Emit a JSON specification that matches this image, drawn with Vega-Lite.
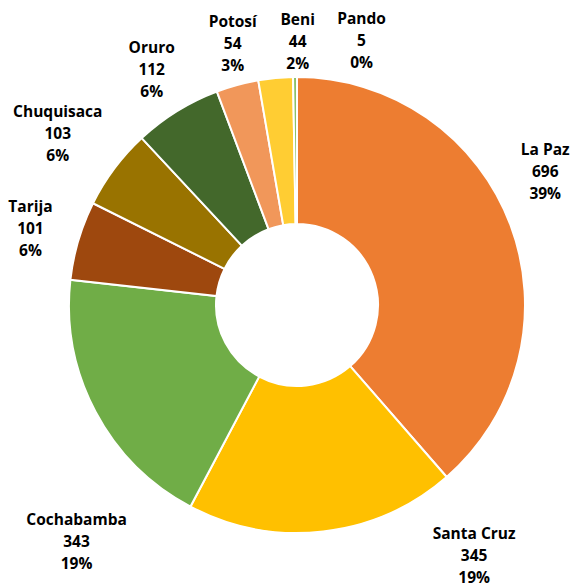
{
  "$schema": "https://vega.github.io/schema/vega-lite/v6.json",
  "width": 552,
  "height": 556,
  "padding": {"left": 21, "top": 27, "right": 0, "bottom": 0},
  "autosize": {"type": "none"},
  "background": "white",
  "config": {"view": {"stroke": null}, "text": {"font": "Open Sans"}},
  "data": {
    "values": [
      {"name": "La Paz", "value": 696, "order": 1},
      {"name": "Santa Cruz", "value": 345, "order": 2},
      {"name": "Cochabamba", "value": 343, "order": 3},
      {"name": "Tarija", "value": 101, "order": 4},
      {"name": "Chuquisaca", "value": 103, "order": 5},
      {"name": "Oruro", "value": 112, "order": 6},
      {"name": "Potosí", "value": 54, "order": 7},
      {"name": "Beni", "value": 44, "order": 8},
      {"name": "Pando", "value": 5, "order": 9}
    ]
  },
  "transform": [
    {"joinaggregate": [{"op": "sum", "field": "value", "as": "total"}]},
    {"window": [{"op": "sum", "field": "value", "as": "cum"}], "sort": [{"field": "order"}], "frame": [null, 0]},
    {"calculate": "datum.cum - datum.value / 2", "as": "mid"},
    {"calculate": "[datum.name, format(datum.value, 'd'), format(datum.value / datum.total, '.0%')]", "as": "label"}
  ],
  "layer": [
    {
      "mark": {"type": "arc", "outerRadius": 228, "innerRadius": 81, "stroke": "white", "strokeWidth": 2},
      "encoding": {
        "theta": {"field": "value", "type": "quantitative", "stack": true},
        "order": {"field": "order", "type": "quantitative"},
        "color": {
          "field": "name",
          "type": "nominal",
          "legend": null,
          "scale": {
            "domain": ["La Paz", "Santa Cruz", "Cochabamba", "Tarija", "Chuquisaca", "Oruro", "Potosí", "Beni", "Pando"],
            "range": ["#ED7D31", "#FFC000", "#70AD47", "#9E480E", "#997300", "#43682B", "#F1975A", "#FFCD33", "#8CC168"]
          }
        }
      }
    },
    {
      "transform": [{"filter": "datum.name === 'Tarija' || datum.name === 'Oruro'"}],
      "mark": {"type": "text", "radius": 280, "fontSize": 15.5, "fontWeight": "bold", "lineHeight": 22, "align": "center", "baseline": "middle", "color": "#000000", "dx": 2, "dy": -19},
      "encoding": {"theta": {"field": "mid", "type": "quantitative", "stack": null}, "text": {"field": "label"}}
    },
    {
      "transform": [{"filter": "datum.name === 'La Paz'"}],
      "mark": {"type": "text", "radius": 280, "fontSize": 15.5, "fontWeight": "bold", "lineHeight": 22, "align": "center", "baseline": "middle", "color": "#000000", "dx": -14, "dy": -57},
      "encoding": {"theta": {"field": "mid", "type": "quantitative", "stack": null}, "text": {"field": "label"}}
    },
    {
      "transform": [{"filter": "datum.name === 'Santa Cruz'"}],
      "mark": {"type": "text", "radius": 280, "fontSize": 15.5, "fontWeight": "bold", "lineHeight": 22, "align": "center", "baseline": "middle", "color": "#000000", "dx": 145, "dy": -49},
      "encoding": {"theta": {"field": "mid", "type": "quantitative", "stack": null}, "text": {"field": "label"}}
    },
    {
      "transform": [{"filter": "datum.name === 'Cochabamba'"}],
      "mark": {"type": "text", "radius": 280, "fontSize": 15.5, "fontWeight": "bold", "lineHeight": 22, "align": "center", "baseline": "middle", "color": "#000000", "dx": 27, "dy": 84},
      "encoding": {"theta": {"field": "mid", "type": "quantitative", "stack": null}, "text": {"field": "label"}}
    },
    {
      "transform": [{"filter": "datum.name === 'Chuquisaca'"}],
      "mark": {"type": "text", "radius": 280, "fontSize": 15.5, "fontWeight": "bold", "lineHeight": 22, "align": "center", "baseline": "middle", "color": "#000000", "dx": -15, "dy": -25},
      "encoding": {"theta": {"field": "mid", "type": "quantitative", "stack": null}, "text": {"field": "label"}}
    },
    {
      "transform": [{"filter": "datum.name === 'Potosí'"}],
      "mark": {"type": "text", "radius": 280, "fontSize": 15.5, "fontWeight": "bold", "lineHeight": 22, "align": "center", "baseline": "middle", "color": "#000000", "dx": 9, "dy": -13},
      "encoding": {"theta": {"field": "mid", "type": "quantitative", "stack": null}, "text": {"field": "label"}}
    },
    {
      "transform": [{"filter": "datum.name === 'Beni'"}],
      "mark": {"type": "text", "radius": 280, "fontSize": 15.5, "fontWeight": "bold", "lineHeight": 22, "align": "center", "baseline": "middle", "color": "#000000", "dx": 27, "dy": -6},
      "encoding": {"theta": {"field": "mid", "type": "quantitative", "stack": null}, "text": {"field": "label"}}
    },
    {
      "transform": [{"filter": "datum.name === 'Pando'"}],
      "mark": {"type": "text", "radius": 280, "fontSize": 15.5, "fontWeight": "bold", "lineHeight": 22, "align": "center", "baseline": "middle", "color": "#000000", "dx": 67, "dy": -6},
      "encoding": {"theta": {"field": "mid", "type": "quantitative", "stack": null}, "text": {"field": "label"}}
    }
  ]
}
